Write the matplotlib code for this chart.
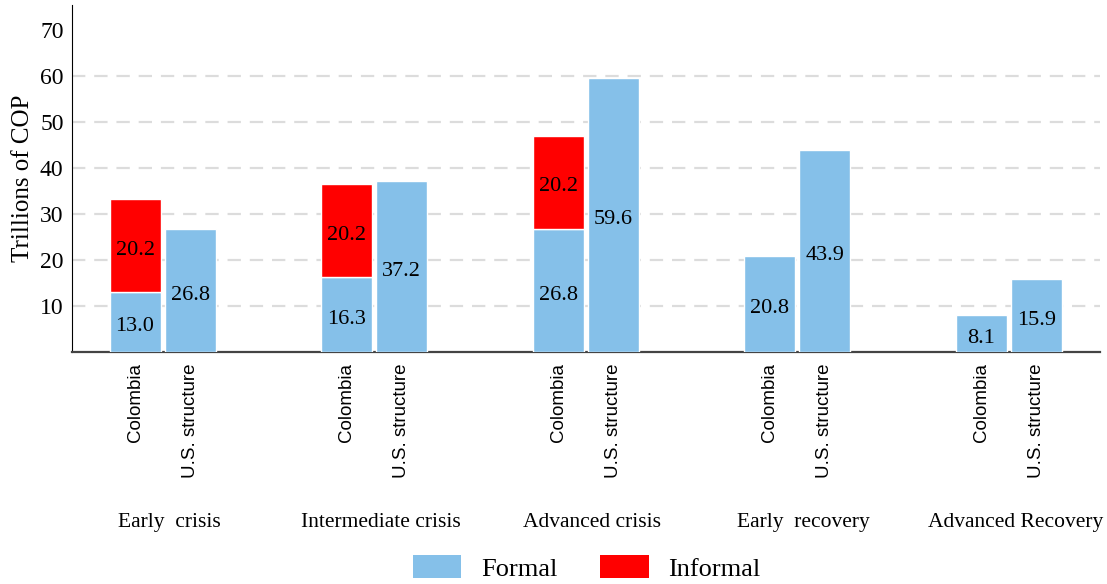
import matplotlib.pyplot as plt
import matplotlib.transforms as mtransforms
from matplotlib.patches import Patch
import numpy as np

stages = ["Early  crisis", "Intermediate crisis", "Advanced crisis",
          "Early  recovery", "Advanced Recovery"]
bar_names = ["Colombia", "U.S. structure"]
colombia_formal = [13.0, 16.3, 26.8, 20.8, 8.1]
colombia_informal = [20.2, 20.2, 20.2, 0, 0]
us_formal = [26.8, 37.2, 59.6, 43.9, 15.9]

formal_color = "#85c0e9"
informal_color = "#ff0000"


def main():
    plt.rcParams["font.family"] = ["Liberation Serif", "DejaVu Serif"]
    fig = plt.figure(figsize=(11.07, 5.84), dpi=100)
    ax = fig.add_axes([0.065, 0.397, 0.9287, 0.594])

    x = np.arange(len(stages))
    width = 0.241
    off = 0.13

    col_x = x - off
    us_x = x + off
    ax.bar(col_x, colombia_formal, width, color=formal_color,
           edgecolor="white", linewidth=1, zorder=3)
    inf_vals = np.array(colombia_informal)
    mask = inf_vals > 0
    ax.bar(col_x[mask], inf_vals[mask], width,
           bottom=np.array(colombia_formal)[mask], color=informal_color,
           edgecolor="white", linewidth=1, zorder=3)
    ax.bar(us_x, us_formal, width, color=formal_color,
           edgecolor="white", linewidth=1, zorder=3)

    # value labels
    fs = 16
    for i in range(len(stages)):
        ax.text(col_x[i], colombia_formal[i] / 2 - 1, f"{colombia_formal[i]:.1f}",
                ha="center", va="center", fontsize=fs, zorder=4)
        if colombia_informal[i] > 0:
            ax.text(col_x[i], colombia_formal[i] + colombia_informal[i] / 2 - 1,
                    f"{colombia_informal[i]:.1f}", ha="center", va="center",
                    fontsize=fs, zorder=4)
        ax.text(us_x[i], us_formal[i] / 2 - 1, f"{us_formal[i]:.1f}",
                ha="center", va="center", fontsize=fs, zorder=4)

    ax.set_xlim(-0.428, 4.43)
    ax.set_ylim(0, 75.3)
    ax.set_yticks(range(10, 71, 10))
    ax.tick_params(axis="y", labelsize=17, length=0, pad=6)
    for y in range(10, 61, 10):
        ax.axhline(y, color="#dcdcdc", linestyle=(0, (6, 4)), linewidth=1.6,
                   zorder=1)
    ax.set_ylabel("Trillions of COP", fontsize=18, labelpad=4)

    xticks = np.concatenate([col_x, us_x])
    xlabels = [bar_names[0]] * len(stages) + [bar_names[1]] * len(stages)
    ax.set_xticks(xticks)
    ax.set_xticklabels(xlabels, rotation=90, fontsize=13.5,
                       family=["Liberation Sans", "DejaVu Sans"])
    ax.tick_params(axis="x", length=0, pad=8)

    trans = mtransforms.blended_transform_factory(ax.transData, ax.transAxes)
    for i, s in enumerate(stages):
        ax.text(x[i] + 0.03, -0.49, s, transform=trans, ha="center",
                va="center", fontsize=15.5)

    for side in ["top", "right"]:
        ax.spines[side].set_visible(False)
    ax.spines["left"].set_color("black")
    ax.spines["bottom"].set_color("#444444")
    ax.spines["bottom"].set_linewidth(1.6)

    handles = [Patch(facecolor=formal_color, label="Formal"),
               Patch(facecolor=informal_color, label="Informal")]
    fig.legend(handles=handles, loc="lower center", ncol=2, frameon=False,
               fontsize=19, handlelength=1.85, handleheight=0.95,
               columnspacing=1.6, handletextpad=0.75,
               bbox_to_anchor=(0.53, -0.035))

    fig.savefig("out.png", dpi=100)


main()
